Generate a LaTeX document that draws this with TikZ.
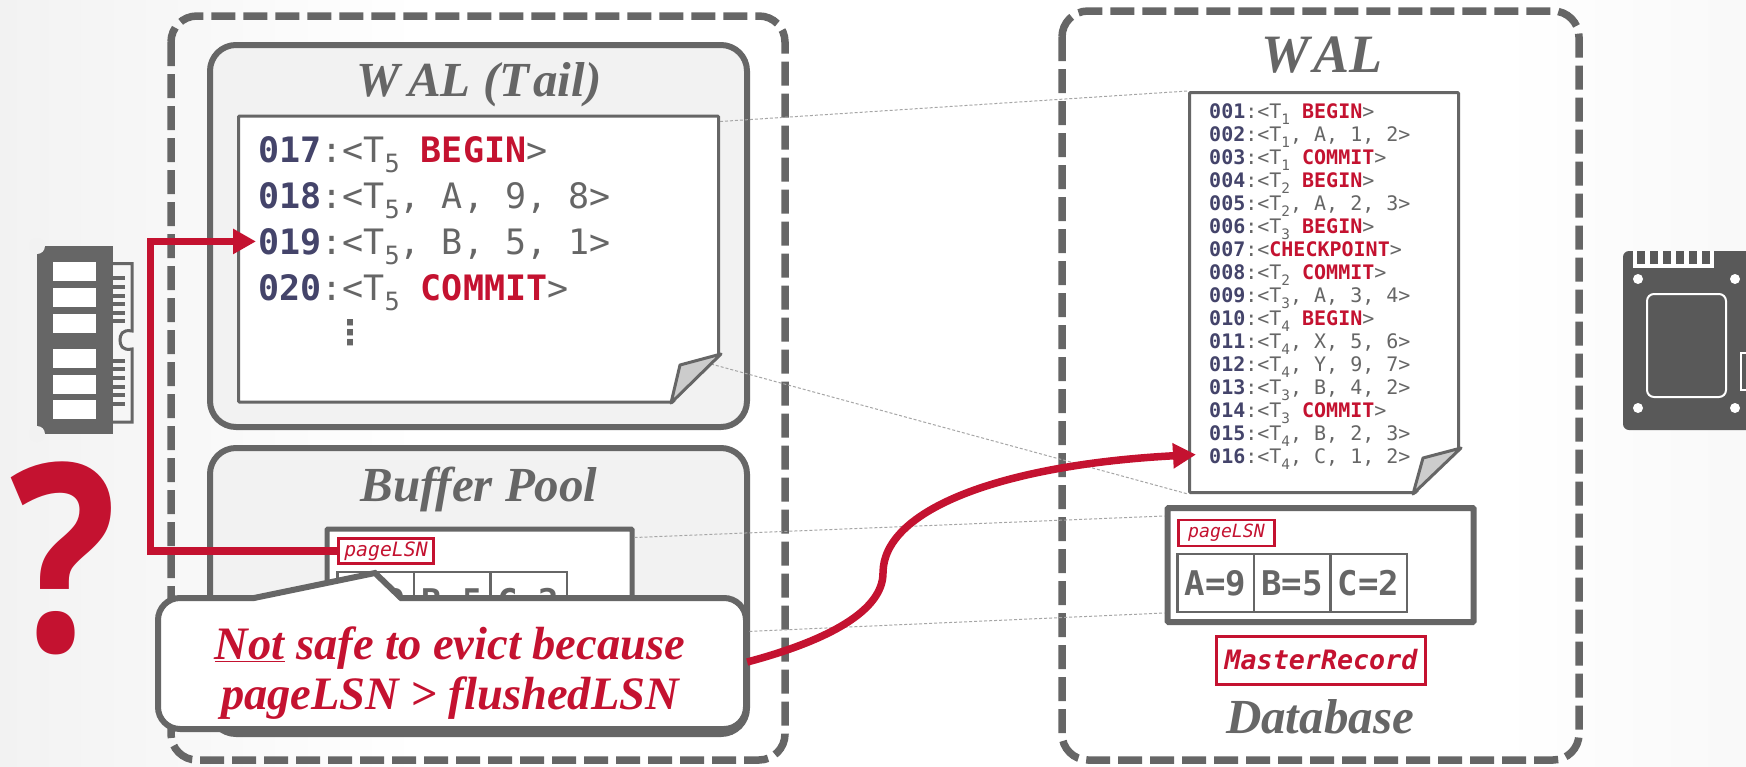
\documentclass[tikz,border=0pt]{standalone}
\usepackage{fontspec}
\setmainfont{Liberation Serif}
\newfontfamily\walfont{DejaVu Sans Mono}
\newfontfamily\dotsfont{DejaVu Sans}
\newfontfamily\markfont{Open Sans}
\usetikzlibrary{arrows.meta,calc}

\definecolor{wgray}{HTML}{666666}
\definecolor{wred}{HTML}{C41230}
\definecolor{wnavy}{HTML}{44446A}
\definecolor{wpanel}{HTML}{F2F2F2}
\definecolor{wsoft}{HTML}{A6A6A6}
\definecolor{wfold}{HTML}{CCCCCC}
\definecolor{wssd}{HTML}{595959}

\newcommand{\tsub}[1]{T\raisebox{-.3em}{\scalebox{.72}{#1}}}
\newcommand{\kw}[1]{\textcolor{wred}{\bfseries #1}}
\newcommand{\lsn}[1]{\textcolor{wnavy}{\bfseries #1}:<}

\tikzset{
    site/.style={draw=wgray,line width=7.5pt,dash pattern=on 24pt off 8pt,rounded corners=26pt},
    panel/.style={draw=wgray,fill=wpanel,line width=6pt,rounded corners=26pt},
    page/.style={draw=wgray,fill=white,inner sep=0pt,rounded corners=1pt},
    heading/.style={text=wgray,font=\fontsize{49}{53}\selectfont\bfseries\itshape,inner sep=0pt},
    tag/.style={draw=wred,fill=white,text=wred,inner sep=0pt,line width=2.5pt},
    cell/.style={draw=wgray,line width=2.5pt,inner sep=0pt,minimum width=76.5pt,minimum height=58pt,
        text=wgray,font=\walfont\bfseries\fontsize{34}{34}\selectfont},
    walline/.style={anchor=base west,inner sep=0pt,text=wgray},
    link/.style={draw=wsoft,line width=1pt,dash pattern=on 3pt off 2pt},
    pointer/.style={draw=wred,line width=7.5pt,-{Triangle[length=23pt,width=24pt]}},
}

\begin{document}
\begin{tikzpicture}[x=1pt,y=-1pt]
    \useasboundingbox (0,0) rectangle (1746,766);
    \fill[white] (0,0) rectangle (1746,766);
    \shade[left color=wpanel,right color=white] (0,0) rectangle (420,766);
    \shade[left color=white,right color=wpanel!50] (1500,0) rectangle (1746,766);

    \draw[site] (171,16) rectangle (785,760);
    \draw[site] (1062,11) rectangle (1579,760);

    \node[panel,minimum width=537pt,minimum height=382pt] (tailbox) at (478.5,236) {};
    \node[panel,minimum width=537pt,minimum height=286pt] (poolbox) at (478.5,591) {};
    \node[heading] (tailtitle) at (479,85) {W\kern8pt AL (T\kern4pt ail)};
    \node[heading] (pooltitle) at (479,489) {Buffer Pool};
    \node[heading,font=\fontsize{54}{58}\selectfont\bfseries\itshape] (waltitle) at (1322,55) {W\kern4pt AL};
    \node[heading] (dbtitle) at (1320,717) {Database};

    \node[page,line width=3pt,minimum width=480pt,minimum height=286pt] (tailpage) at (478.5,259) {};
    \node[page,line width=3pt,minimum width=269pt,minimum height=400pt] (walpage) at (1324,292.5) {};
    \fill[wpanel] (722,354) -- (722,406) -- (671,406) -- cycle;
    \fill[white] (1462,448) -- (1462,497) -- (1413,497) -- cycle;

    \coordinate (tailfold) at (711,364);
    \draw[link] ([yshift=-7pt]tailpage.north east) -- (walpage.north west);
    \draw[link] (tailfold) -- (walpage.south west);

    \draw[draw=wgray,fill=wfold,line width=3pt,line join=round] (721,354) -- (680,365) -- (671,403) -- cycle;
    \draw[draw=wgray,fill=wfold,line width=3pt,line join=round] (1461,448) -- (1423,458) -- (1413,494) -- cycle;

    \foreach[count=\n] \num/\rest in {
        017/{\tsub{5} \kw{BEGIN}>},
        018/{\tsub{5}, A, 9, 8>},
        019/{\tsub{5}, B, 5, 1>},
        020/{\tsub{5} \kw{COMMIT}>}} {
        \node[walline,font=\walfont\fontsize{35}{35}\selectfont] (tail\n) at (258,{116+46*\n}) {\lsn{\num}\rest};
    }
    \node[text=wgray,inner sep=0pt,font=\dotsfont\bfseries\fontsize{34}{34}\selectfont] (taildots) at (350,333) {⋮};

    \foreach[count=\n] \num/\rest in {
        001/{\tsub{1} \kw{BEGIN}>},
        002/{\tsub{1}, A, 1, 2>},
        003/{\tsub{1} \kw{COMMIT}>},
        004/{\tsub{2} \kw{BEGIN}>},
        005/{\tsub{2}, A, 2, 3>},
        006/{\tsub{3} \kw{BEGIN}>},
        007/{\kw{CHECKPOINT}>},
        008/{\tsub{2} \kw{COMMIT}>},
        009/{\tsub{3}, A, 3, 4>},
        010/{\tsub{4} \kw{BEGIN}>},
        011/{\tsub{4}, X, 5, 6>},
        012/{\tsub{4}, Y, 9, 7>},
        013/{\tsub{3}, B, 4, 2>},
        014/{\tsub{3} \kw{COMMIT}>},
        015/{\tsub{4}, B, 2, 3>},
        016/{\tsub{4}, C, 1, 2>}} {
        \node[walline,font=\walfont\fontsize{20}{20}\selectfont] (wal\n) at (1209,{95+23*\n}) {\lsn{\num}\rest};
    }

    \node[page,line width=5pt,minimum width=305pt,minimum height=105pt] (poolpage) at (479.5,581.5) {};
    \node[page,line width=6pt,minimum width=306pt,minimum height=114pt] (dbpage) at (1320.5,565) {};
    \draw[link] ([yshift=-11pt]poolpage.north east) -- ([yshift=-11pt]dbpage.north west);
    \draw[link] (poolpage.south east) -- ([yshift=12pt]dbpage.south west);

    \foreach \cellname/\cx/\val in {a/0/A=9,b/1/B=5,c/2/C=2} {
        \node[cell] (pool\cellname) at ({375.5+76.5*\cx},601) {\val};
        \node[cell] (db\cellname) at ({1215.5+76.5*\cx},583) {\val};
    }

    \node[tag,minimum width=95pt,minimum height=25pt,font=\walfont\itshape\fontsize{19.8}{20}\selectfont] (pooltag) at (386,551) {pageLSN};
    \node[tag,minimum width=96pt,minimum height=26pt,font=\walfont\itshape\fontsize{18.2}{20}\selectfont] (dbtag) at (1226.5,533) {pageLSN};
    \node[tag,line width=3pt,minimum width=209pt,minimum height=48pt,font=\walfont\bfseries\itshape\fontsize{26.7}{27}\selectfont] (master) at (1321,660) {MasterRecord};

    \draw[pointer] (pooltag.west) -- ++(-187,0) |- ([xshift=-2pt,yshift=5pt]tail3.west);

    \draw[draw=wgray,fill=white,line width=6pt,rounded corners=22pt,line join=miter]
        (158,598) [sharp corners] -- (254,598) -- (375,573) -- (401,598) [rounded corners=22pt]
        -- (746,598) -- (746,729) -- (158,729) -- cycle;
    \node[text=wred,inner sep=0pt,align=center,minimum width=594pt,minimum height=132pt,
        font=\fontsize{46.5}{50}\selectfont\bfseries\itshape] (warn) at (450,673)
        {\underline{Not} safe to evict because\\pageLSN > flushedLSN};
    \draw[pointer] ([yshift=11pt]warn.east) .. controls (830,640) and (883,610) .. (883,573)
        .. controls (883,510) and (1000,465) .. ([xshift=-13pt,yshift=4pt]wal16.west);

    \node[anchor=base,inner sep=0pt,text=wred,font=\markfont\bfseries\fontsize{262}{262}\selectfont] (qmark) at (64,651) {\scalebox{.85}[1]{?}};

    \fill[wgray] (37,246) rectangle (113,434);
    \fill[wpanel] (37,246) circle (8pt) (37,434) circle (8pt);
    \foreach \chip in {262,288,314,349,375,400} {
        \fill[white] (53,\chip) rectangle ++(43,19);
    }
    \foreach \pin in {278,287,296,304,313,321,361,369,378,387,395,404} {
        \fill[wgray] (113,{\pin-2}) rectangle ++(12,4);
    }
    \draw[wgray,line width=3pt] (113,263.5) -- (132,263.5) -- (132,331)
        .. controls (122,329) and (120,335) .. (120,340) .. controls (120,345) and (122,351) .. (132,349)
        -- (132,422) -- (113,422);

    \begin{scope}
        \clip (0,0) rectangle (1746,766);
        \fill[wssd,rounded corners=6pt] (1623,251) rectangle (1770,430);
        \fill[white] (1632.5,251) rectangle (1714,268);
        \foreach \tooth in {0,...,5} {
            \fill[wssd] ({1636.5+13*\tooth},251) rectangle ++(8.6,13);
        }
        \foreach \hx/\hy in {1638/279,1735/279,1638/408,1735/408} {
            \fill[white] (\hx,\hy) circle (5pt);
        }
        \draw[white,line width=2pt,rounded corners=7pt] (1647,294) rectangle (1726,397);
        \draw[white,line width=2pt] (1741,353) rectangle (1770,390);
    \end{scope}
\end{tikzpicture}
\end{document}
